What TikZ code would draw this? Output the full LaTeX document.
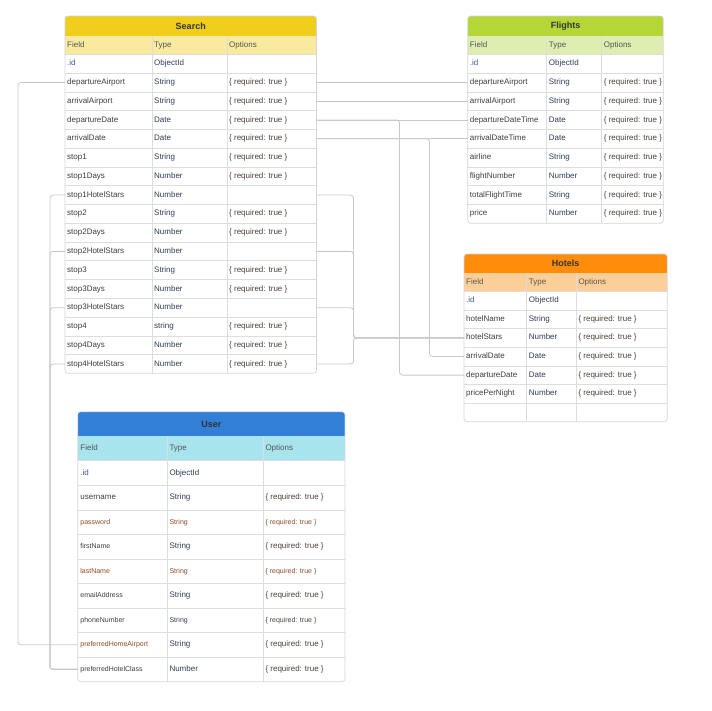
\documentclass[tikz,border=0pt]{standalone}
\usepackage{fontspec}
\setmainfont{Liberation Sans}
\usetikzlibrary{positioning, calc}

\definecolor{searchtop}{HTML}{EFCE1C}
\definecolor{searchhead}{HTML}{F8EA9E}
\definecolor{flighttop}{HTML}{B4D737}
\definecolor{flighthead}{HTML}{DEEDB0}
\definecolor{hoteltop}{HTML}{FF8C0A}
\definecolor{hotelhead}{HTML}{FDCF98}
\definecolor{usertop}{HTML}{327FD7}
\definecolor{userhead}{HTML}{A8E4ED}
\definecolor{gridgray}{HTML}{DDDDDD}
\definecolor{framegray}{HTML}{D4D4D4}
\definecolor{linkgray}{HTML}{C8C8C8}
\definecolor{fieldgray}{HTML}{3D3D3D}
\definecolor{typenavy}{HTML}{2E3B55}
\definecolor{optgray}{HTML}{4A3F3A}
\definecolor{headgray}{HTML}{555555}
\definecolor{titlegray}{HTML}{333333}
\definecolor{txtbrown}{HTML}{8A4A26}
\definecolor{idblue}{HTML}{3B5B92}

\newcommand{\req}{\{ required: true \}}
\newcommand{\idf}{\textcolor{idblue}{.id}}

\begin{document}
\begin{tikzpicture}[x=1pt, y=-1pt,
cell/.style={anchor=west, inner sep=0pt, text height=5.8pt, text depth=1.6pt, text=fieldgray, font=\fontsize{8}{9}\selectfont},
typecell/.style={cell, text=typenavy},
optcell/.style={cell, text=optgray},
headcell/.style={cell, text=headgray},
smalltxt/.style={font=\fontsize{7}{8}\selectfont},
browntxt/.style={font=\fontsize{7}{8}\selectfont, text=txtbrown},
plain/.style={},
tabletitle/.style={inner sep=0pt, text=titlegray, font=\bfseries\fontsize{9}{10}\selectfont},
tableframe/.style={draw=framegray, line width=0.7pt, rounded corners=3pt},
gridline/.style={draw=gridgray, line width=0.6pt},
rowbox/.style={anchor=north west, inner sep=0pt, outer sep=0pt},
relation/.style={draw=linkgray, line width=0.8pt, rounded corners=3pt},
]
\useasboundingbox (0,0) rectangle (712,710);

%Search
\begin{scope}
  \clip[rounded corners=3pt] (65,16) rectangle (316.5,373.3);
  \fill[searchtop] (65,16) rectangle (316.5,36);
  \fill[searchhead] (65,36) rectangle (316.5,54.3);
\end{scope}
\node[tabletitle] (search) at (190.75,26) {Search};
\node[headcell] at (67,45.2) {Field};
\node[headcell] at (154,45.2) {Type};
\node[headcell] at (229,45.2) {Options};
\foreach \n/\f/\t/\o [count=\i from 0] in {id/\idf/ObjectId/{},
  depAirport/departureAirport/String/\req, arrAirport/arrivalAirport/String/\req,
  depDate/departureDate/Date/\req, arrDate/arrivalDate/Date/\req,
  stop1/stop1/String/\req, stop1Days/stop1Days/Number/\req, stop1Stars/stop1HotelStars/Number/{},
  stop2/stop2/String/\req, stop2Days/stop2Days/Number/\req, stop2Stars/stop2HotelStars/Number/{},
  stop3/stop3/String/\req, stop3Days/stop3Days/Number/\req, stop3Stars/stop3HotelStars/Number/{},
  stop4/stop4/string/\req, stop4Days/stop4Days/Number/\req, stop4Stars/stop4HotelStars/Number/\req}{
  \node[rowbox, minimum width=251.5pt, minimum height=18.77pt] (s-\n) at (65,54.3+18.77*\i) {};
  \draw[gridline] (s-\n.north west) -- (s-\n.north east);
  \node[cell] at ([xshift=2pt]s-\n.west) {\f};
  \node[typecell] at ([xshift=89pt]s-\n.west) {\t};
  \node[optcell] at ([xshift=164pt]s-\n.west) {\o};
}
\draw[gridline] (152.3,36) -- (152.3,373.3) (227.3,36) -- (227.3,373.3);
\draw[tableframe] (65,16) rectangle (316.5,373.3);

%Flights
\begin{scope}
  \clip[rounded corners=3pt] (467.7,16) rectangle (663.3,223.3);
  \fill[flighttop] (467.7,16) rectangle (663.3,36);
  \fill[flighthead] (467.7,36) rectangle (663.3,54.3);
\end{scope}
\node[tabletitle] (flights) at (565.5,26) {Flights};
\node[headcell] at (469.7,45.2) {Field};
\node[headcell] at (548.7,45.2) {Type};
\node[headcell] at (603.7,45.2) {Options};
\foreach \n/\f/\t/\o [count=\i from 0] in {id/\idf/ObjectId/{},
  depAirport/departureAirport/String/\req, arrAirport/arrivalAirport/String/\req,
  depDateTime/departureDateTime/Date/\req, arrDateTime/arrivalDateTime/Date/\req,
  airline/airline/String/\req, flightNumber/flightNumber/Number/\req,
  flightTime/totalFlightTime/String/\req, price/price/Number/\req}{
  \node[rowbox, minimum width=195.6pt, minimum height=18.77pt] (f-\n) at (467.7,54.3+18.77*\i) {};
  \draw[gridline] (f-\n.north west) -- (f-\n.north east);
  \node[cell] at ([xshift=2pt]f-\n.west) {\f};
  \node[typecell] at ([xshift=81pt]f-\n.west) {\t};
  \node[optcell] at ([xshift=136pt]f-\n.west) {\o};
}
\draw[gridline] (546.7,36) -- (546.7,223.3) (601.7,36) -- (601.7,223.3);
\draw[tableframe] (467.7,16) rectangle (663.3,223.3);

%Hotels
\begin{scope}
  \clip[rounded corners=3pt] (464,254) rectangle (667.3,421.7);
  \fill[hoteltop] (464,254) rectangle (667.3,273.3);
  \fill[hotelhead] (464,273.3) rectangle (667.3,291.3);
\end{scope}
\node[tabletitle] (hotels) at (565.65,263.6) {Hotels};
\node[headcell] at (466,282.3) {Field};
\node[headcell] at (528.7,282.3) {Type};
\node[headcell] at (578.3,282.3) {Options};
\foreach \n/\f/\t/\o [count=\i from 0] in {id/\idf/ObjectId/{},
  hotelName/hotelName/String/\req, hotelStars/hotelStars/Number/\req,
  arrDate/arrivalDate/Date/\req, depDate/departureDate/Date/\req,
  pricePerNight/pricePerNight/Number/\req, blank/{}/{}/{}}{
  \node[rowbox, minimum width=203.3pt, minimum height=18.63pt] (h-\n) at (464,291.3+18.63*\i) {};
  \draw[gridline] (h-\n.north west) -- (h-\n.north east);
  \node[cell] at ([xshift=2pt]h-\n.west) {\f};
  \node[typecell] at ([xshift=64.7pt]h-\n.west) {\t};
  \node[optcell] at ([xshift=114.3pt]h-\n.west) {\o};
}
\draw[gridline] (526.7,273.3) -- (526.7,421.7) (576.3,273.3) -- (576.3,421.7);
\draw[tableframe] (464,254) rectangle (667.3,421.7);

%User
\begin{scope}
  \clip[rounded corners=3pt] (77.7,411.7) rectangle (345,681.7);
  \fill[usertop] (77.7,411.7) rectangle (345,436);
  \fill[userhead] (77.7,436) rectangle (345,460.7);
\end{scope}
\node[tabletitle] (user) at (211.35,424) {User};
\node[headcell] at (80.2,448.3) {Field};
\node[headcell] at (169.3,448.3) {Type};
\node[headcell] at (265.3,448.3) {Options};
\foreach \n/\f/\t/\o/\fs/\ts [count=\i from 0] in {id/\idf/ObjectId/{}/plain/plain,
  username/username/String/\req/plain/plain, password/password/String/\req/browntxt/browntxt,
  firstName/firstName/String/\req/smalltxt/plain, lastName/lastName/String/\req/browntxt/browntxt,
  email/emailAddress/String/\req/smalltxt/plain, phone/phoneNumber/String/\req/smalltxt/smalltxt,
  homeAirport/preferredHomeAirport/String/\req/browntxt/plain,
  hotelClass/preferredHotelClass/Number/\req/smalltxt/plain}{
  \node[rowbox, minimum width=267.3pt, minimum height=24.55pt] (u-\n) at (77.7,460.7+24.55*\i) {};
  \draw[gridline] (u-\n.north west) -- (u-\n.north east);
  \node[cell, \fs] at ([xshift=2.5pt]u-\n.west) {\f};
  \node[typecell, \ts] at ([xshift=91.6pt]u-\n.west) {\t};
  \node[optcell, \ts] at ([xshift=187.6pt]u-\n.west) {\o};
}
\draw[gridline] (167.3,436) -- (167.3,681.7) (263.3,436) -- (263.3,681.7);
\draw[tableframe] (77.7,411.7) rectangle (345,681.7);

% Relations
\draw[relation] (s-depAirport.west) -- ++(-47,0) |- (u-homeAirport.west);
\foreach \k in {1,...,4}
  \draw[relation] (s-stop\k Stars.west) -- ++(-15,0) |- (u-hotelClass.west);
\draw[relation] (s-depAirport.east) -- (f-depAirport.west);
\draw[relation] (s-arrAirport.east) -- (f-arrAirport.west);
\draw[relation] (s-depDate.east) -- (f-depDateTime.west);
\draw[relation] (s-arrDate.east) -- (f-arrDateTime.west);
\draw[relation] (s-depDate.east) -- ++(83,0) |- (h-depDate.west);
\draw[relation] (s-arrDate.east) -- ++(113,0) |- (h-arrDate.west);
\foreach \k in {1,...,4}
  \draw[relation] (s-stop\k Stars.east) -- ++(37,0) |- (h-hotelStars.west);
\end{tikzpicture}
\end{document}
